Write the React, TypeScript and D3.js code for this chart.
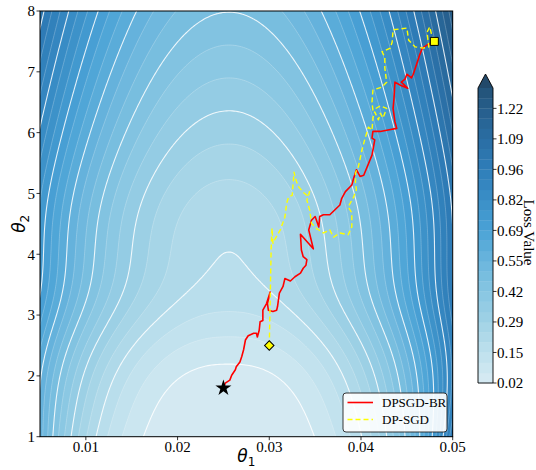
import React, { useMemo } from "react";
import * as d3 from "d3";

// ---------- layout ----------
const W = 536;
const H = 470;
const PL = 40, PR = 452.7, PT = 11, PB = 436.7;

// ---------- axes ----------
const xDomain = [0.005, 0.05];
const yDomain = [1, 8];
const xTicks = [0.01, 0.02, 0.03, 0.04, 0.05];
const yTicks = [1, 2, 3, 4, 5, 6, 7, 8];

// ---------- contour levels / colorbar ----------
const LEVEL_MIN = 0.019;
const LEVEL_STEP = 0.0446;
const N_LEVELS = 30;
const cbarTickLabels = ["0.02", "0.15", "0.29", "0.42", "0.55", "0.69", "0.82", "0.96", "1.09", "1.22"];
const cmapPositions = [0, 0.1, 0.21, 0.31, 0.41, 0.52, 0.62, 0.73, 0.83, 0.93, 1];
const cmapColors = ["#d8ebf3", "#bfe1ed", "#a0d2e6", "#87c6e2", "#6bb6dd", "#4aa2d6", "#3a8fc7", "#2f7db8", "#2a6da3", "#265e8b", "#235277"];
const overColor = "#22496a";

// ---------- trajectories ----------
const brTheta1 = [0.0250, 0.0252, 0.0257, 0.0259, 0.0263, 0.0264, 0.0268, 0.0270, 0.0272, 0.0274, 0.0277, 0.0283, 0.0286, 0.0287, 0.0289, 0.0290, 0.0293, 0.0293, 0.0297, 0.0301, 0.0298, 0.0299, 0.0304, 0.0308, 0.0309, 0.0311, 0.0315, 0.0317, 0.0323, 0.0328, 0.0334, 0.0337, 0.0340, 0.0341, 0.0337, 0.0335, 0.0334, 0.0348, 0.0343, 0.0346, 0.0350, 0.0354, 0.0355, 0.0359, 0.0366, 0.0377, 0.0379, 0.0383, 0.0390, 0.0392, 0.0395, 0.0399, 0.0403, 0.0412, 0.0413, 0.0415, 0.0412, 0.0413, 0.0421, 0.0428, 0.0439, 0.0437, 0.0435, 0.0436, 0.0437, 0.0443, 0.0451, 0.0444, 0.0448, 0.0450, 0.0455, 0.0457, 0.0461, 0.0464, 0.0467, 0.0473, 0.0480];
const brTheta2 = [1.80, 1.88, 1.93, 2.01, 2.10, 2.15, 2.23, 2.32, 2.43, 2.59, 2.66, 2.70, 2.70, 2.64, 2.75, 2.89, 2.91, 3.08, 3.19, 3.38, 3.19, 3.08, 3.06, 3.08, 3.14, 3.36, 3.47, 3.60, 3.56, 3.63, 3.69, 3.77, 3.82, 3.91, 3.96, 4.07, 4.33, 4.09, 4.40, 4.56, 4.62, 4.45, 4.62, 4.65, 4.65, 4.81, 4.92, 5.03, 5.14, 5.25, 5.39, 5.28, 5.30, 5.63, 5.71, 5.88, 5.91, 6.02, 6.02, 6.04, 6.07, 6.18, 6.40, 6.56, 6.83, 6.78, 6.73, 6.83, 6.88, 6.96, 6.90, 6.96, 7.14, 7.28, 7.39, 7.45, 7.50];

const dpTheta1 = [0.0300, 0.0301, 0.0302, 0.0303, 0.0304, 0.0307, 0.0312, 0.0317, 0.0319, 0.0321, 0.0325, 0.0327, 0.0329, 0.0332, 0.0337, 0.0341, 0.0344, 0.0341, 0.0344, 0.0346, 0.0351, 0.0359, 0.0366, 0.0370, 0.0377, 0.0386, 0.0390, 0.0390, 0.0386, 0.0392, 0.0395, 0.0394, 0.0394, 0.0397, 0.0401, 0.0404, 0.0408, 0.0412, 0.0413, 0.0415, 0.0419, 0.0421, 0.0424, 0.0428, 0.0421, 0.0413, 0.0412, 0.0413, 0.0423, 0.0428, 0.0426, 0.0426, 0.0423, 0.0432, 0.0434, 0.0435, 0.0450, 0.0452, 0.0459, 0.0468, 0.0474, 0.0472, 0.0475, 0.0477, 0.0480];
const dpTheta2 = [2.50, 3.25, 4.07, 4.43, 4.18, 4.27, 4.40, 4.61, 4.84, 4.94, 4.97, 5.35, 5.22, 5.11, 5.02, 4.97, 5.03, 4.89, 4.73, 4.51, 4.43, 4.35, 4.40, 4.28, 4.35, 4.32, 4.45, 4.68, 4.78, 4.94, 5.06, 5.17, 5.34, 5.43, 5.71, 5.88, 6.09, 6.04, 6.24, 6.34, 6.21, 6.32, 6.24, 6.40, 6.44, 6.37, 6.50, 6.70, 6.75, 6.83, 7.06, 7.24, 7.33, 7.39, 7.49, 7.69, 7.72, 7.52, 7.41, 7.39, 7.41, 7.65, 7.74, 7.61, 7.50];

const brStart = [0.025, 1.8];
const dpStart = [0.03, 2.5];
const endPoint = [0.048, 7.5];

const legendLabels = ["DPSGD-BR", "DP-SGD"];

// ---------- loss surface (model) ----------
function loss(t1: number, t2: number): number {
  const u = (t1 - 0.0256) / 0.01;
  const base = 1.85 * 0.4 * Math.log(1 + Math.exp((t2 - 2.6) / 0.4)) + 2.0 * Math.exp(-Math.pow((t2 - 3.3) / 1.1, 2));
  const p = 2 + 1.3 * Math.exp(-(t2 - 1) / 1.4);
  const side = 12.5 * Math.pow(Math.abs(u) / 2.06, p);
  return LEVEL_MIN + LEVEL_STEP * (base + side) + 0.002;
}

const SERIF = "'Liberation Serif', 'Times New Roman', serif";
const MATH = "'DejaVu Sans', sans-serif";
const TICK_FS = 15;

export default function App() {
  const x = d3.scaleLinear().domain(xDomain).range([PL, PR]);
  const y = d3.scaleLinear().domain(yDomain).range([PB, PT]);

  const cmap = d3.scaleLinear<string>().domain(cmapPositions).range(cmapColors).interpolate(d3.interpolateRgb);
  const thresholds = d3.range(N_LEVELS).map((k) => LEVEL_MIN + k * LEVEL_STEP);
  const nBands = N_LEVELS - 1;
  const bandColor = (k: number) => (k >= nBands ? overColor : cmap((k + 0.5) / nBands));

  const { fills, pathGen } = useMemo(() => {
    const nx = 220, ny = 220;
    const dx = (xDomain[1] - xDomain[0]) / nx;
    const dy = (yDomain[1] - yDomain[0]) / ny;
    const gx = nx + 2, gy = ny + 2;
    const values = new Float64Array(gx * gy);
    for (let j = 0; j < gy; j++) {
      const t2 = yDomain[0] + (j - 0.5) * dy;
      for (let i = 0; i < gx; i++) {
        const t1 = xDomain[0] + (i - 0.5) * dx;
        values[j * gx + i] = loss(t1, t2);
      }
    }
    const cs = d3.contours().size([gx, gy]).thresholds(thresholds)(Array.from(values));
    const proj = d3.geoTransform({
      point(px: number, py: number) {
        // @ts-ignore
        this.stream.point(x(xDomain[0] + (px - 1) * dx), y(yDomain[0] + (py - 1) * dy));
      },
    });
    return { fills: cs, pathGen: d3.geoPath(proj) };
  }, []);

  const mkPath = (a: number[], b: number[]) =>
    d3.line<[number, number]>().x((d) => x(d[0])).y((d) => y(d[1]))(a.map((v, i) => [v, b[i]] as [number, number])) || "";

  // colorbar
  const cbX = 478, cbW = 15;
  const cbTopVal = LEVEL_MIN + nBands * LEVEL_STEP;
  const cb = d3.scaleLinear().domain([LEVEL_MIN, cbTopVal]).range([383, 88]);
  const cbTickVals = cbarTickLabels.map((_, k) => LEVEL_MIN + 3 * k * LEVEL_STEP);

  const star = d3.symbol(d3.symbolStar, 80)() || "";
  const sq = d3.symbol(d3.symbolSquare, 64)() || "";
  const dia = d3.symbol(d3.symbolSquare, 44)() || "";

  return (
    <div style={{ position: "absolute", left: 0, top: 0 }}>
      <svg width={W} height={H} viewBox={`0 0 ${W} ${H}`} style={{ display: "block", background: "#fff" }}>
        <defs>
          <clipPath id="plotclip">
            <rect x={PL} y={PT} width={PR - PL} height={PB - PT} />
          </clipPath>
        </defs>
        <g clipPath="url(#plotclip)">
          <rect x={PL} y={PT} width={PR - PL} height={PB - PT} fill={bandColor(0)} />
          {fills.map((c, k) => (
            <path key={"f" + k} d={pathGen(c as any) || ""} fill={bandColor(k)} stroke="none" />
          ))}
          {fills.map((c, k) =>
            k === 0 ? null : (
              <path
                key={"l" + k}
                d={pathGen(c as any) || ""}
                fill="none"
                stroke="#ffffff"
                strokeOpacity={k % 3 === 1 ? 0.85 : 0.3}
                strokeWidth={k % 3 === 1 ? 1.1 : 0.8}
              />
            )
          )}
          <path d={mkPath(brTheta1, brTheta2)} fill="none" stroke="#ff0000" strokeWidth={1.6} strokeLinejoin="round" />
          <path d={mkPath(dpTheta1, dpTheta2)} fill="none" stroke="#ffff00" strokeWidth={1.4} strokeDasharray="5,3" strokeLinejoin="round" />
        </g>
        {/* markers */}
        <path d={star} transform={`translate(${x(brStart[0])},${y(brStart[1])})`} fill="#000" />
        <path d={dia} transform={`translate(${x(dpStart[0])},${y(dpStart[1])}) rotate(45)`} fill="#ffff00" stroke="#000" strokeWidth={1} />
        <path d={sq} transform={`translate(${x(endPoint[0])},${y(endPoint[1])})`} fill="#ffff00" stroke="#000" strokeWidth={1} />

        {/* frame */}
        <rect x={PL} y={PT} width={PR - PL} height={PB - PT} fill="none" stroke="#000" strokeWidth={1} />
        {/* x ticks */}
        {xTicks.map((t) => (
          <g key={"xt" + t}>
            <line x1={x(t)} x2={x(t)} y1={PB} y2={PB + 3.5} stroke="#000" strokeWidth={0.8} />
            <text x={x(t)} y={PB + 15} textAnchor="middle" fontFamily={SERIF} fontSize={TICK_FS} fill="#000">
              {t.toFixed(2)}
            </text>
          </g>
        ))}
        {yTicks.map((t) => (
          <g key={"yt" + t}>
            <line x1={PL - 3.5} x2={PL} y1={y(t)} y2={y(t)} stroke="#000" strokeWidth={0.8} />
            <text x={PL - 5} y={y(t)} dy="0.35em" textAnchor="end" fontFamily={SERIF} fontSize={TICK_FS} fill="#000">
              {t}
            </text>
          </g>
        ))}
        {/* axis labels */}
        <text x={(PL + PR) / 2} y={462} textAnchor="middle" fontFamily={MATH} fontSize={17} fill="#000">
          <tspan fontStyle="italic">θ</tspan>
          <tspan fontSize={12} dy={3.5}>1</tspan>
        </text>
        <text transform={`translate(25,${(PT + PB) / 2}) rotate(-90)`} textAnchor="middle" fontFamily={MATH} fontSize={17} fill="#000">
          <tspan fontStyle="italic">θ</tspan>
          <tspan fontSize={12} dy={3.5}>2</tspan>
        </text>

        {/* legend */}
        <g>
          <rect x={343} y={393} width={104} height={39} rx={3} fill="#ffffff" fillOpacity={0.9} stroke="#222" strokeWidth={0.9} />
          <line x1={347.5} x2={373} y1={402.5} y2={402.5} stroke="#ff0000" strokeWidth={1.6} />
          <text x={382} y={407} fontFamily={SERIF} fontSize={13} fill="#000">{legendLabels[0]}</text>
          <line x1={347.5} x2={373} y1={419.5} y2={419.5} stroke="#ffff00" strokeWidth={1.4} strokeDasharray="5,3" />
          <text x={382} y={424} fontFamily={SERIF} fontSize={13} fill="#000">{legendLabels[1]}</text>
        </g>

        {/* colorbar */}
        <g>
          {d3.range(nBands).map((k) => (
            <rect
              key={"cb" + k}
              x={cbX}
              y={cb(thresholds[k + 1])}
              width={cbW}
              height={cb(thresholds[k]) - cb(thresholds[k + 1]) + 0.3}
              fill={bandColor(k)}
            />
          ))}
          <path d={`M${cbX},${cb(cbTopVal)} L${cbX + cbW / 2},${cb(cbTopVal) - 14} L${cbX + cbW},${cb(cbTopVal)} Z`} fill={overColor} />
          <path
            d={`M${cbX},${cb(LEVEL_MIN)} L${cbX},${cb(cbTopVal)} L${cbX + cbW / 2},${cb(cbTopVal) - 14} L${cbX + cbW},${cb(cbTopVal)} L${cbX + cbW},${cb(LEVEL_MIN)} Z`}
            fill="none"
            stroke="#000"
            strokeWidth={0.9}
          />
          {cbTickVals.map((v, k) => (
            <g key={"cbt" + k}>
              <line x1={cbX + cbW} x2={cbX + cbW + 3.5} y1={cb(v)} y2={cb(v)} stroke="#000" strokeWidth={0.8} />
              <text x={cbX + cbW + 4} y={cb(v)} dy="0.35em" fontFamily={SERIF} fontSize={TICK_FS} fill="#000">
                {cbarTickLabels[k]}
              </text>
            </g>
          ))}
          <text transform={`translate(524,${cb((LEVEL_MIN + cbTopVal) / 2) - 3}) rotate(90)`} textAnchor="middle" fontFamily={SERIF} fontSize={15} fill="#000">
            Loss Value
          </text>
        </g>
      </svg>
    </div>
  );
}
